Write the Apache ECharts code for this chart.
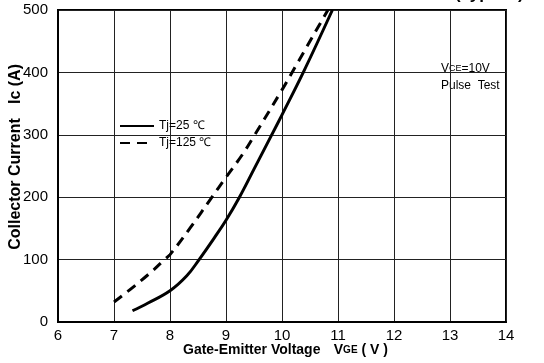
<!DOCTYPE html>
<html>
<head>
<meta charset="utf-8">
<script src="https://cdn.jsdelivr.net/npm/echarts@6/dist/echarts.min.js"></script>
<style>
  html, body { margin: 0; padding: 0; background: #fff; }
  #main { width: 544px; height: 363px; }
</style>
</head>
<body>
<div id="main"></div>
<script>
// Ic - VGE transfer characteristic (typical)
var xTicks = [6, 7, 8, 9, 10, 11, 12, 13, 14];
var yTicks = [0, 100, 200, 300, 400, 500];

// Tj = 25 C  [VGE, Ic]
var tj25 = [
    [7.33, 18], [7.6, 30], [8.0, 50], [8.3, 74], [8.52, 100], [8.8, 136],
    [9.0, 163], [9.24, 200], [9.5, 245], [9.8, 297], [10.0, 332],
    [10.38, 400], [10.9, 500]
];
// Tj = 125 C
var tj125 = [
    [7.0, 32], [7.37, 58], [7.7, 83], [7.9, 100], [8.0, 108], [8.37, 152],
    [8.74, 199], [9.0, 232], [9.29, 268], [9.5, 298], [10.0, 372],
    [10.18, 400], [10.82, 500]
];
var seriesNames = ['Tj=25 ℃', 'Tj=125 ℃'];

var chart = echarts.init(document.getElementById('main'));
var font = '"Liberation Sans", Arial, sans-serif';

chart.setOption({
    animation: false,
    textStyle: { fontFamily: font, color: '#000' },
    grid: {
        left: 58, right: 38, top: 10, bottom: 41,
        show: true, borderColor: '#000', borderWidth: 2,
        outerBoundsMode: 'none'
    },
    legend: {
        orient: 'vertical',
        left: 114, top: 115,
        itemWidth: 34, itemHeight: 10, itemGap: 5,
        itemStyle: { opacity: 0 },
        textStyle: { fontSize: 12, color: '#000', fontFamily: font },
        data: seriesNames
    },
    xAxis: {
        type: 'value', min: xTicks[0], max: xTicks[xTicks.length - 1], interval: 1,
        axisLine: { lineStyle: { color: '#000', width: 2 } },
        axisTick: { show: false },
        axisLabel: { color: '#000', fontSize: 15, margin: 6 },
        splitLine: { lineStyle: { color: '#222', width: 1 } }
    },
    yAxis: {
        type: 'value', min: yTicks[0], max: yTicks[yTicks.length - 1], interval: 100,
        axisLine: { show: true, lineStyle: { color: '#000', width: 2 } },
        axisTick: { show: false },
        axisLabel: { color: '#000', fontSize: 15, margin: 10 },
        splitLine: { lineStyle: { color: '#222', width: 1 } }
    },
    series: [
        {
            name: seriesNames[0], type: 'line', data: tj25,
            smooth: 0.4, symbol: 'none',
            lineStyle: { color: '#000', width: 3 },
            itemStyle: { color: '#000' }
        },
        {
            name: seriesNames[1], type: 'line', data: tj125,
            smooth: 0.4, symbol: 'none',
            lineStyle: { color: '#000', width: 3, type: [10, 7] },
            itemStyle: { color: '#000' }
        }
    ],
    graphic: [
        {
            type: 'text', left: 455, top: -14,
            style: { text: '(Typical)', font: 'bold 17px ' + font, fill: '#000' }
        },
        {
            type: 'text', left: 441, top: 63,
            style: {
                text: '{v|V}{s|CE}{v|=10V}\n{v|Pulse  Test}',
                rich: {
                    v: { fontSize: 12, fontFamily: font, fill: '#000', lineHeight: 17 },
                    s: { fontSize: 9, fontFamily: font, fill: '#000', lineHeight: 17 }
                }
            }
        },
        {
            type: 'text', left: 183, top: 343,
            style: {
                text: '{b|Gate-Emitter Voltage}    {b|V}{s|GE}{b| ( V )}',
                rich: {
                    b: { fontSize: 14, fontWeight: 'bold', fontFamily: font, fill: '#000' },
                    s: { fontSize: 10, fontWeight: 'bold', fontFamily: font, fill: '#000' }
                }
            }
        },
        {
            type: 'text', x: 16, y: 184, rotation: Math.PI / 2,
            style: {
                text: 'Collector Current',
                font: 'bold 16px ' + font, fill: '#000',
                align: 'center', verticalAlign: 'middle'
            }
        },
        {
            type: 'text', x: 16, y: 84, rotation: Math.PI / 2,
            style: {
                text: 'Ic (A)',
                font: 'bold 16px ' + font, fill: '#000',
                align: 'center', verticalAlign: 'middle'
            }
        }
    ]
});
</script>
</body>
</html>
